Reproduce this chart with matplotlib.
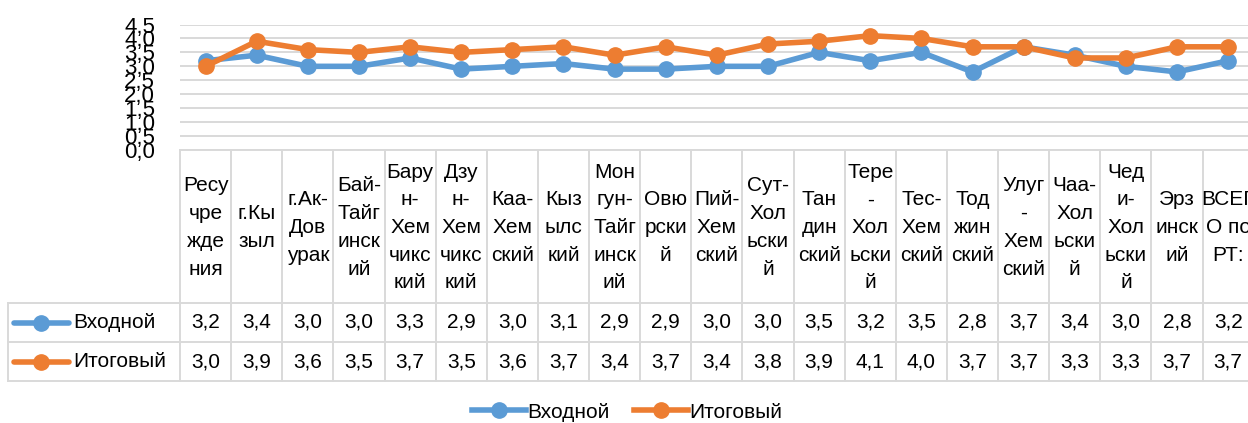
import matplotlib
matplotlib.use('Agg')
import matplotlib.pyplot as plt
import numpy as np

plt.rcParams['font.family'] = ['Liberation Sans', 'DejaVu Sans']

# район / категория (как в подписи таблицы Excel, с переносами)
categories = ['Ресу\nчре\nжде\nния', 'г.Кы\nзыл', 'г.Ак-\nДов\nурак', 'Бай-\nТайг\nинск\nий',
              'Бару\nн-\nХем\nчикс\nкий', 'Дзу\nн-\nХем\nчикс\nкий', 'Каа-\nХем\nский',
              'Кыз\nылс\nкий', 'Мон\nгун-\nТайг\nинск\nий', 'Овю\nрски\nй', 'Пий-\nХем\nский',
              'Сут-\nХол\nьски\nй', 'Тан\nдин\nский', 'Тере\n-\nХол\nьски\nй', 'Тес-\nХем\nский',
              'Тод\nжин\nский', 'Улуг\n-\nХем\nский', 'Чаа-\nХол\nьски\nй', 'Чед\nи-\nХол\nьски\nй',
              'Эрз\nинск\nий', 'ВСЕГ\nО по\nРТ:']
vhodnoy = [3.2, 3.4, 3.0, 3.0, 3.3, 2.9, 3.0, 3.1, 2.9, 2.9, 3.0, 3.0, 3.5, 3.2, 3.5, 2.8, 3.7, 3.4, 3.0, 2.8, 3.2]
itogoviy = [3.0, 3.9, 3.6, 3.5, 3.7, 3.5, 3.6, 3.7, 3.4, 3.7, 3.4, 3.8, 3.9, 4.1, 4.0, 3.7, 3.7, 3.3, 3.3, 3.7, 3.7]
series_names = ['Входной', 'Итоговый']
yticks = [0.0, 0.5, 1.0, 1.5, 2.0, 2.5, 3.0, 3.5, 4.0, 4.5]

blue = '#5B9BD5'
orange = '#ED7D31'
grid_c = '#D9D9D9'
fs = 15

W, H = 1248, 423
fig = plt.figure(figsize=(W / 100, H / 100), dpi=100)

# geometry in pixels
x0, colw = 180, 51.13
ncol = len(categories)
x1 = x0 + ncol * colw
plot_top, plot_bot = 24.5, 150
row_h = [153, 39, 39]
tab_bot = plot_bot + sum(row_h)

ax = fig.add_axes([x0 / W, 1 - plot_bot / H, (x1 - x0) / W, (plot_bot - plot_top) / H])
tab = fig.add_axes([x0 / W, 1 - tab_bot / H, (x1 - x0) / W, (tab_bot - plot_bot) / H])

x = np.arange(ncol)
l1, = ax.plot(x, vhodnoy, color=blue, lw=4, marker='o', ms=11, label=series_names[0], zorder=3)
l2, = ax.plot(x, itogoviy, color=orange, lw=4, marker='o', ms=11, label=series_names[1], zorder=4)
ax.set_xlim(-0.5, ncol - 0.5)
ax.set_ylim(0, 4.5)
ax.set_yticks(yticks)
ax.set_yticklabels([f'{v:.1f}'.replace('.', ',') for v in yticks], fontsize=16)
ax.tick_params(axis='y', length=0, pad=18)
ax.set_xticks([])
ax.yaxis.grid(True, color=grid_c, lw=1.4)
ax.set_axisbelow(True)
for s in ax.spines.values():
    s.set_visible(False)

# data table below
tab.set_xlim(-0.5, ncol - 0.5)
tab.set_ylim(sum(row_h), 0)
tab.axis('off')
left = (8 - x0) / colw - 0.5
y_rows = np.cumsum([0] + row_h)
tab.plot([-0.5, ncol - 0.5], [0, 0], color=grid_c, lw=1.4, clip_on=False)
for yy in y_rows[1:]:
    tab.plot([left, ncol - 0.5], [yy, yy], color=grid_c, lw=1.4, clip_on=False)
for k in range(ncol + 1):
    tab.plot([k - 0.5, k - 0.5], [0, y_rows[-1]], color=grid_c, lw=1.4, clip_on=False)
tab.plot([left, left], [y_rows[1], y_rows[-1]], color=grid_c, lw=1.4, clip_on=False)

for i, lab in enumerate(categories):
    tab.text(i, row_h[0] / 2 + 1, lab, ha='center', va='center', fontsize=fs, linespacing=1.58, clip_on=False)
for r, (vals, col, name) in enumerate([(vhodnoy, blue, series_names[0]), (itogoviy, orange, series_names[1])]):
    yc = (y_rows[r + 1] + y_rows[r + 2]) / 2
    for i, v in enumerate(vals):
        tab.text(i, yc, f'{v:.1f}'.replace('.', ','), ha='center', va='center', fontsize=fs)
    kx = [(p - x0) / colw - 0.5 for p in (14, 41, 69)]
    tab.plot([kx[0], kx[2]], [yc, yc], color=col, lw=4, clip_on=False, solid_capstyle='round')
    tab.plot([kx[1]], [yc], 'o', color=col, ms=11, clip_on=False)
    tab.text((73 - x0) / colw - 0.5, yc, name, ha='left', va='center', fontsize=fs, clip_on=False)

fig.legend(handles=[l1, l2], loc='center', bbox_to_anchor=(627 / W, 1 - 412 / H), ncol=2,
           frameon=False, fontsize=fs, handlelength=2.6, handletextpad=0.05, columnspacing=1.2)

fig.savefig('out.png', dpi=100)
